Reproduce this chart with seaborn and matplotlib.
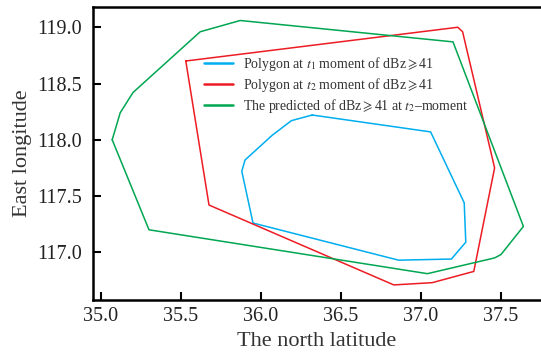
import pandas as pd
import matplotlib
matplotlib.use("Agg")
import matplotlib.pyplot as plt
import seaborn as sns

# polygon vertices (latitude, longitude)
t1_lat = [36.32, 37.06, 37.27, 37.28, 37.19, 36.86, 35.95, 35.88, 35.90, 36.07, 36.19]
t1_lon = [118.22, 118.07, 117.44, 117.09, 116.94, 116.93, 117.26, 117.72, 117.82, 118.04, 118.17]

t2_lat = [35.53, 37.23, 37.26, 37.46, 37.33, 37.07, 36.83, 35.675]
t2_lon = [118.70, 119.00, 118.96, 117.75, 116.83, 116.73, 116.71, 117.42]

pred_lat = [35.07, 35.12, 35.20, 35.62, 35.87, 37.20, 37.64, 37.50, 37.46, 37.04, 35.30]
pred_lon = [118.00, 118.24, 118.42, 118.96, 119.06, 118.87, 117.23, 116.98, 116.95, 116.81, 117.20]

labels = [r"Polygon at $t_1$ moment of dBz$\geqslant$41",
          r"Polygon at $t_2$ moment of dBz$\geqslant$41",
          r"The predicted of dBz$\geqslant$41 at $t_2$" + "\u2013moment"]
colors = ["#00aeef", "#ed1c24", "#00a651"]

# build one long table, closing each polygon
frames = []
for name, la, lo in zip(labels, [t1_lat, t2_lat, pred_lat], [t1_lon, t2_lon, pred_lon]):
    frames.append(pd.DataFrame({"lat": la + la[:1], "lon": lo + lo[:1], "poly": name}))
df = pd.concat(frames, ignore_index=True)

sns.set_theme(style="ticks")
plt.rcParams['font.family'] = ['Liberation Serif', 'DejaVu Serif', 'DejaVu Sans']
plt.rcParams['mathtext.fontset'] = 'stix'

fig = plt.figure(figsize=(5.41, 3.59), dpi=100)
ax = fig.add_axes([93/541, 59/359, 448/541, 293/359])

sns.lineplot(data=df, x="lat", y="lon", hue="poly", palette=colors, sort=False,
             estimator=None, linewidth=1.1, ax=ax)

ax.set_xlim(34.95, 37.75)
ax.set_ylim(116.576, 119.18)
ax.set_xticks([35.0, 35.5, 36.0, 36.5, 37.0, 37.5])
ax.set_yticks([117.0, 117.5, 118.0, 118.5, 119.0])
ax.tick_params(direction="in", length=6, width=1.5, labelsize=14.5,
               colors="black", labelcolor="#222222")
ax.tick_params(axis="y", pad=8)
ax.tick_params(axis="x", pad=5)
for s in ["left", "bottom", "top"]:
    ax.spines[s].set_linewidth(1.8)
    ax.spines[s].set_color("black")
ax.spines["right"].set_visible(False)

ax.set_xlabel("The north latitude", fontsize=16, color="#333333", labelpad=4)
ax.set_ylabel("East longitude", fontsize=16, color="#333333", labelpad=4)

leg = ax.legend(loc="upper left", bbox_to_anchor=(0.236, 0.855), frameon=False,
                fontsize=10, handlelength=2.1, handletextpad=0.7, labelspacing=0.2,
                borderaxespad=0)
for line in leg.get_lines():
    line.set_linewidth(1.8)
for t in leg.get_texts():
    t.set_color("#333333")

fig.savefig("out.png", dpi=100)
